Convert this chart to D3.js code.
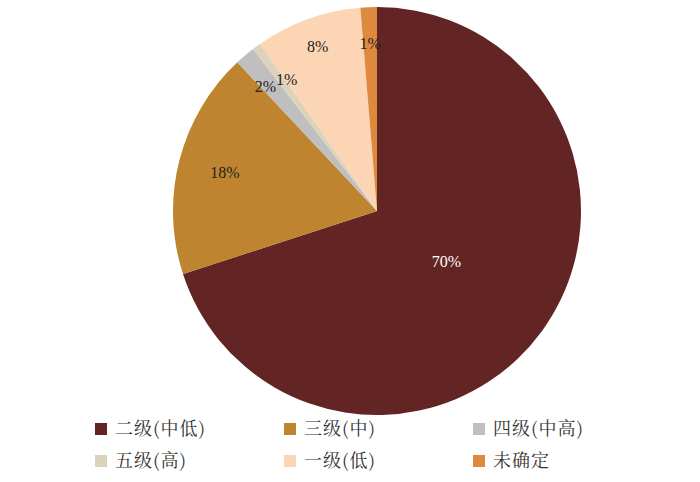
<!DOCTYPE html>
<html><head><meta charset="utf-8">
<script src="https://cdn.jsdelivr.net/npm/d3@7"></script>
<style>body{margin:0;background:#fff}</style>
</head><body>
<svg id="chart" width="700" height="482"></svg>
<script>
const categories = ["二级(中低)", "三级(中)", "四级(中高)", "五级(高)", "一级(低)", "未确定"];
const values = [70, 18, 1.6, 0.7, 8.4, 1.3];
const labels = ["70%", "18%", "2%", "1%", "8%", "1%"];
const colors = ["#632523", "#be8430", "#bfbfbf", "#ddd2ba", "#fcd5b5", "#de8a3e"];

const svg = d3.select("#chart");
const cx = 377, cy = 211, r = 204;
const font = "'Noto Serif CJK SC','Noto Sans CJK SC','Liberation Serif',serif";

let pie = d3.pie().sort(null).value(d => d)(values);
let arc = d3.arc().innerRadius(0).outerRadius(r);
let g = svg.append("g").attr("transform", `translate(${cx},${cy})`);

g.selectAll("path").data(pie).enter().append("path")
    .attr("d", arc)
    .attr("fill", (d, i) => colors[i]);

// label radius as fraction of r, the big slice sits nearer the centre
let lr = i => [0.42, 0.77, 0.8, 0.8, 0.86, 0.82][i] * r;
let shift = [0, 0, -6, 6, 0, 0]; // spread the two tiny labels a bit
g.selectAll("text").data(pie).enter().append("text")
    .attr("x", (d, i) => Math.sin((d.startAngle + d.endAngle) / 2) * lr(i) + shift[i])
    .attr("y", (d, i) => -Math.cos((d.startAngle + d.endAngle) / 2) * lr(i))
    .attr("text-anchor", "middle").attr("dy", "0.35em")
    .attr("font-family", "'Liberation Serif',serif").attr("font-size", 16)
    .attr("fill", (d, i) => i == 0 ? "#fff" : "#222")
    .text((d, i) => labels[i]);

let colX = [95, 284, 473], rowY = [429, 461];
let leg = svg.selectAll("g.leg").data(categories).enter().append("g")
    .attr("transform", (d, i) => `translate(${colX[i % 3]},${rowY[Math.floor(i / 3)]})`);
leg.append("rect").attr("x", 0).attr("y", -6).attr("width", 12).attr("height", 12)
    .attr("fill", (d, i) => colors[i]);
leg.append("text").attr("x", 20).attr("dy", "0.36em")
    .attr("font-family", font).attr("font-size", 18).attr("letter-spacing", 1).attr("fill", "#333")
    .text(d => d);
</script>
</body></html>
